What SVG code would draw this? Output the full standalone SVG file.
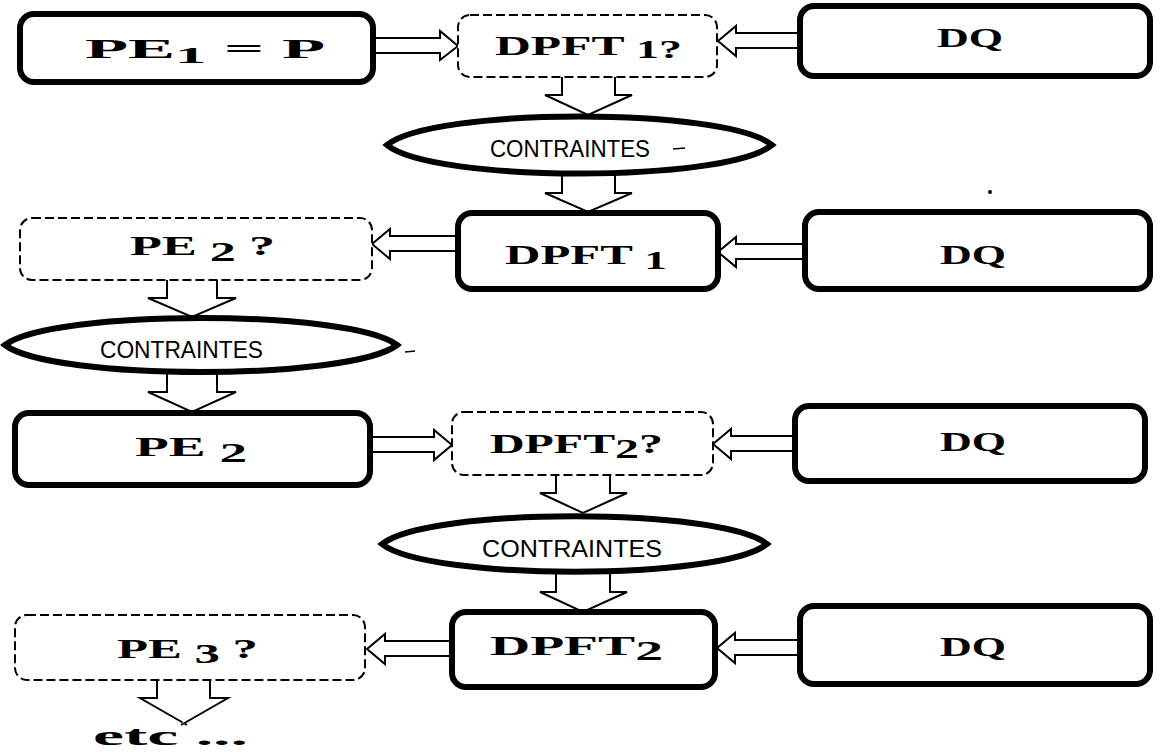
<svg xmlns="http://www.w3.org/2000/svg" width="1161" height="752" viewBox="0 0 1161 752">
<style>
.bold{fill:#fff;stroke:#000;stroke-width:6}
.dash{fill:#fff;stroke:#000;stroke-width:2;stroke-dasharray:9 4}
.ell{fill:#fff;stroke:#000;stroke-width:6}
.arr{fill:#fff;stroke:#000;stroke-width:2;stroke-linejoin:miter}
.t{font-family:"Liberation Serif",serif;font-weight:bold;font-size:27px;fill:#000}
.h{font-family:"Liberation Sans",sans-serif;font-size:23px;fill:#000}
</style>
<rect width="1161" height="752" fill="#fff"/>
<g id="connectors">
<polyline class="arr" points="373,38 440,38 440,31 458,46 440,60 440,53 373,53"/>
<polyline class="arr" points="800,33 736,33 736,26 718,41 736,56 736,48 800,48"/>
<polyline class="arr" points="562,77 562,95 545,95 588,115 632,95 615,95 615,77"/>
<polyline class="arr" points="562,175 562,193 545,193 588,212 632,193 615,193 615,175"/>
<polyline class="arr" points="458,236 390,236 390,229 372,244 390,259 390,251 458,251"/>
<polyline class="arr" points="805,244 736,244 736,237 718,252 736,267 736,259 805,259"/>
<polyline class="arr" points="167,280 167,298 148,298 192,317 236,298 217,298 217,280"/>
<polyline class="arr" points="167,373 167,392 148,392 192,412 236,392 217,392 217,373"/>
<polyline class="arr" points="370,437 434,437 434,430 452,445 434,460 434,452 370,452"/>
<polyline class="arr" points="795,436 731,436 731,429 713,444 731,459 731,451 795,451"/>
<polyline class="arr" points="556,475 556,493 540,493 583,513 627,493 610,493 610,475"/>
<polyline class="arr" points="556,573 556,592 540,592 583,612 627,592 610,592 610,573"/>
<polyline class="arr" points="452,641 385,641 385,634 367,649 385,664 385,656 452,656"/>
<polyline class="arr" points="800,640 735,640 735,633 717,648 735,663 735,655 800,655"/>
<polyline class="arr" points="157,680 157,698 140,698 187,725" fill="none"/>
<polyline class="arr" points="210,680 210,698 228,698 181,725" fill="none"/>
</g>
<g id="pe1">
<rect class="bold" x="20" y="14" width="353" height="68" rx="14"/>
<text class="t" x="85" y="58" textLength="240" lengthAdjust="spacingAndGlyphs">PE<tspan dy="5" font-size="24">1</tspan><tspan dy="-5"> = P</tspan></text>
</g>
<g id="dpft1q">
<rect class="dash" x="458" y="15" width="259" height="62" rx="12"/>
<text class="t" x="495" y="55" textLength="187" lengthAdjust="spacingAndGlyphs">DPFT <tspan dy="3" font-size="25">1?</tspan></text>
</g>
<g id="dq1">
<rect class="bold" x="800" y="6" width="350" height="70" rx="14"/>
<text class="t" x="937" y="47" textLength="66" lengthAdjust="spacingAndGlyphs">DQ</text>
</g>
<g id="c1">
<path class="ell" d="M387,145 C433,107 726,107 772,145 C726,183 433,183 387,145 Z"/>
<text class="h" x="490" y="157" textLength="160" lengthAdjust="spacingAndGlyphs">CONTRAINTES</text>
<line x1="673" y1="149" x2="685" y2="148" stroke="#000" stroke-width="1.5"/>
</g>
<g id="dpft1">
<rect class="bold" x="458" y="213" width="260" height="76" rx="14"/>
<text class="t" x="505" y="264" textLength="162" lengthAdjust="spacingAndGlyphs">DPFT <tspan dy="5" font-size="25">1</tspan></text>
</g>
<g id="dq2">
<rect class="bold" x="805" y="212" width="345" height="77" rx="14"/>
<text class="t" x="940" y="264" textLength="66" lengthAdjust="spacingAndGlyphs">DQ</text>
</g>
<g id="pe2q">
<rect class="dash" x="20" y="218" width="352" height="62" rx="12"/>
<text class="t" x="130" y="255" textLength="145" lengthAdjust="spacingAndGlyphs">PE <tspan dy="6">2</tspan><tspan dy="-6"> ?</tspan></text>
</g>
<g id="c2">
<path class="ell" d="M5,345 C52,309 350,309 397,345 C350,381 52,381 5,345 Z"/>
<text class="h" x="100" y="358" textLength="163" lengthAdjust="spacingAndGlyphs">CONTRAINTES</text>
<line x1="405" y1="352" x2="415" y2="351" stroke="#000" stroke-width="1.5"/>
</g>
<g id="pe2">
<rect class="bold" x="15" y="413" width="355" height="72" rx="14"/>
<text class="t" x="135" y="456" textLength="112" lengthAdjust="spacingAndGlyphs">PE <tspan dy="6">2</tspan></text>
</g>
<g id="dpft2q">
<rect class="dash" x="452" y="412" width="261" height="63" rx="12"/>
<text class="t" x="490" y="453" textLength="173" lengthAdjust="spacingAndGlyphs">DPFT<tspan dy="5">2</tspan><tspan dy="-5">?</tspan></text>
</g>
<g id="dq3">
<rect class="bold" x="795" y="406" width="350" height="75" rx="14"/>
<text class="t" x="940" y="451" textLength="66" lengthAdjust="spacingAndGlyphs">DQ</text>
</g>
<g id="c3">
<path class="ell" d="M382,544 C428,507 721,507 767,544 C721,581 428,581 382,544 Z"/>
<text class="h" x="482" y="557" textLength="180" lengthAdjust="spacingAndGlyphs">CONTRAINTES</text>
</g>
<g id="dpft2">
<rect class="bold" x="452" y="612" width="263" height="75" rx="14"/>
<text class="t" x="490" y="655" textLength="173" lengthAdjust="spacingAndGlyphs">DPFT<tspan dy="5">2</tspan></text>
</g>
<g id="dq4">
<rect class="bold" x="800" y="606" width="350" height="78" rx="14"/>
<text class="t" x="940" y="656" textLength="66" lengthAdjust="spacingAndGlyphs">DQ</text>
</g>
<g id="pe3q">
<rect class="dash" x="15" y="615" width="350" height="65" rx="12"/>
<text class="t" x="117" y="658" textLength="141" lengthAdjust="spacingAndGlyphs">PE <tspan dy="5">3</tspan><tspan dy="-5"> ?</tspan></text>
</g>
<g id="etc">
<text class="t" x="93" y="745" textLength="155" lengthAdjust="spacingAndGlyphs">etc ...</text>
</g>
<circle cx="990" cy="192" r="2" fill="#000"/>
</svg>
